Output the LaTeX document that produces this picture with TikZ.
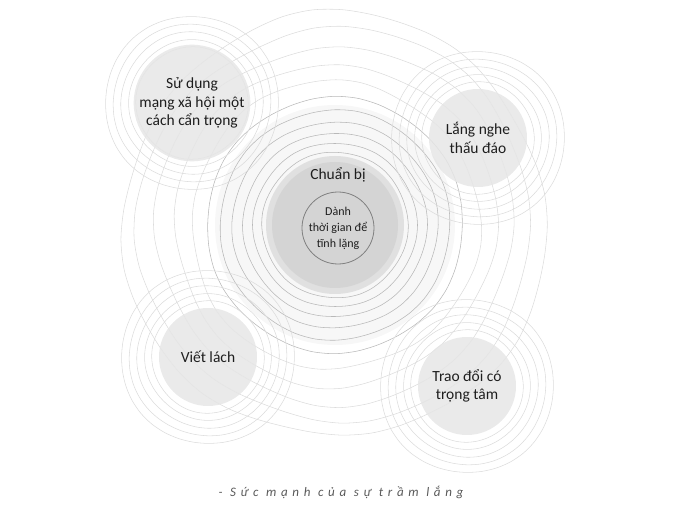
\documentclass[tikz,border=0pt]{standalone}
\usepackage{fontspec}
\setmainfont{Carlito}
\usepackage{tikz}
\usetikzlibrary{calc,positioning}
\definecolor{discgray}{HTML}{D4D4D4}
\definecolor{bandgray}{HTML}{E0E0E0}
\definecolor{softgray}{HTML}{E6E6E6}
\definecolor{ringgray}{HTML}{B8B8B8}
\definecolor{faintgray}{HTML}{DCDCDC}
\definecolor{halogray}{HTML}{F7F7F7}
\definecolor{inkgray}{HTML}{1E1E1E}

\tikzset{
  topic/.style={circle, fill=softgray, fill opacity=.85, text opacity=1,
    minimum size=98pt, inner sep=0pt, align=center, text=inkgray,
    font=\fontsize{15.5}{18.5}\selectfont},
  ring/.style={draw=faintgray, line width=.55pt},
}

\begin{document}
\begin{tikzpicture}[x=1pt,y=-1pt]
  \useasboundingbox (0,0) rectangle (680,510);
  \coordinate (cen) at (335,225);
  \coordinate (socialc) at (192,103);
  \coordinate (listenc) at (478,138);
  \coordinate (writec) at (208,357);
  \coordinate (talkc) at (467,386);

  % pale halo and the wavy rings round the centre
  \fill[halogray] (cen) circle (120pt);
  \foreach \r [count=\i] in {73,82,92,103,115,128}
    \draw[ring, draw=ringgray, shift={(cen)}] plot[smooth cycle, domain=0:350, samples=36, variable=\a]
      (\a:{\r + \r/160*sin(6*\a + 40*\i)});
  \foreach \r [count=\i] in {144,161,179,197,212}
    \draw[ring, shift={(cen)}] plot[smooth cycle, domain=0:352, samples=45, variable=\a]
      (\a:{\r + \r/70*sin(3*\a + 70*\i) + \r/130*sin(8*\a + 30*\i)});

  % rings round the four topics
  \foreach \c in {socialc,listenc,writec,talkc}
    \foreach \r [count=\i] in {56,63,71,79,87}
      \draw[ring, shift={(\c)}] plot[smooth cycle, domain=0:350, samples=36, variable=\a]
        (\a:{\r + \r/140*sin(4*\a + 50*\i)});

  \node[topic] (social) at (socialc) {Sử dụng\\mạng xã hội một\\cách cẩn trọng};
  \node[topic] (listen) at (listenc) {Lắng nghe\\thấu đáo};
  \node[topic] (write) at (writec) {Viết lách};
  \node[topic] (talk) at (talkc) {Trao đổi có\\trọng tâm};

  % centre
  \fill[bandgray] (cen) circle (69pt);
  \node[circle, fill=discgray, minimum size=126pt, inner sep=0pt] (prep) at (cen) {};
  \node[circle, draw=black!50, line width=.8pt, fill=discgray, minimum size=66pt, inner sep=0pt,
    align=center, text=inkgray, font=\fontsize{12}{16}\selectfont] (rest) at (338,228)
    {Dành\\thời gian để\\tĩnh lặng};
  \node[above=6pt of rest, text=inkgray, font=\fontsize{15.5}{18.5}\selectfont] (preplabel) {Chuẩn bị};

  \node[text=black!65, font=\itshape\fontsize{13}{15}\selectfont\addfontfeature{LetterSpace=36}] (motto)
    at (341,492) {- Sức mạnh của sự trầm lắng};
\end{tikzpicture}
\end{document}
